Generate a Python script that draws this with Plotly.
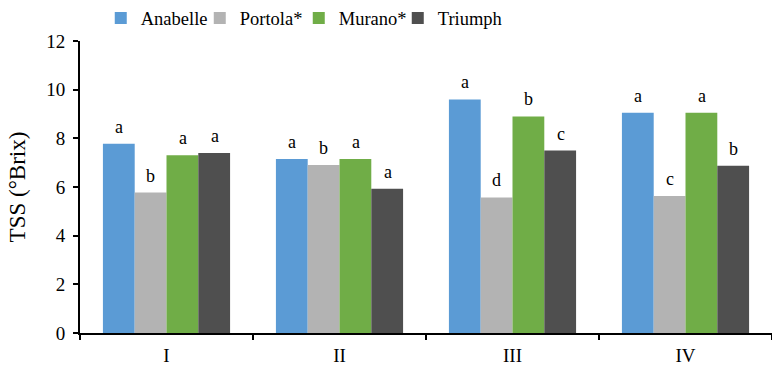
import plotly.graph_objects as go

categories = ["I", "II", "III", "IV"]
series_names = ["Anabelle", "Portola*", "Murano*", "Triumph"]
anabelle = [7.78, 7.15, 9.6, 9.05]
portola = [5.77, 6.9, 5.57, 5.63]
murano = [7.3, 7.15, 8.9, 9.05]
triumph = [7.4, 5.93, 7.5, 6.87]
letters_anabelle = ["a", "a", "a", "a"]
letters_portola = ["b", "b", "d", "c"]
letters_murano = ["a", "a", "b", "a"]
letters_triumph = ["a", "a", "c", "b"]
y_ticks = [0, 2, 4, 6, 8, 10, 12]

colors = ["#5B9BD5", "#B3B3B3", "#70AD47", "#4F4F4F"]
values = [anabelle, portola, murano, triumph]
letters = [letters_anabelle, letters_portola, letters_murano, letters_triumph]
bar_px = 32
xshifts = [-1.5 * bar_px, -0.5 * bar_px, 0.5 * bar_px, 1.5 * bar_px]

font_family = "Liberation Serif"

fig = go.Figure()
for name, vals, lets, col, xs in zip(series_names, values, letters, colors, xshifts):
    fig.add_trace(go.Bar(
        x=categories, y=vals, name=name, marker=dict(color=col, line=dict(width=0)),
    ))
    for c, v, t in zip(categories, vals, lets):
        fig.add_annotation(x=c, y=v, text=t, showarrow=False, xshift=xs, yshift=5,
                           yanchor="bottom", font=dict(family=font_family, size=18, color="black"))

# invisible spacer entry so the last legend label is not clipped
fig.add_trace(go.Scatter(x=[None], y=[None], mode="markers", name=" ",
                         marker=dict(color="rgba(0,0,0,0)"), hoverinfo="skip"))

fig.update_layout(
    width=772, height=365,
    margin=dict(l=80, r=0, t=41, b=32, autoexpand=False),
    plot_bgcolor="white", paper_bgcolor="white",
    barmode="group", bargap=0.265, bargroupgap=0,
    font=dict(family=font_family, size=18, color="black"),
    legend=dict(orientation="h", x=0.030, y=1.142, xanchor="left", yanchor="top",
                font=dict(family=font_family, size=18.5), itemwidth=30,
                entrywidth=54, entrywidthmode="pixels",
                tracegroupgap=0, traceorder="normal"),
    showlegend=True,
)
fig.update_xaxes(
    range=[-0.5, 3.5], showline=True, linecolor="black", linewidth=2,
    ticks="outside", tickson="boundaries", ticklen=5, tickcolor="black", tickwidth=1.5,
    tickfont=dict(family=font_family, size=19), showgrid=False, automargin=False,
    ticklabelstandoff=4,
)
fig.update_yaxes(
    range=[0, 12], tickvals=y_ticks, showline=True, linecolor="black", linewidth=2,
    ticks="outside", ticklen=5, tickcolor="black", tickwidth=1.5, showgrid=False,
    tickfont=dict(family=font_family, size=19), zeroline=False, automargin=False,
    ticklabelstandoff=4,
    title=dict(text="TSS (°Brix)", font=dict(family=font_family, size=23), standoff=14),
)

fig.write_html("out.html", config={"displayModeBar": False},
               post_script="document.body.style.margin='0';")
